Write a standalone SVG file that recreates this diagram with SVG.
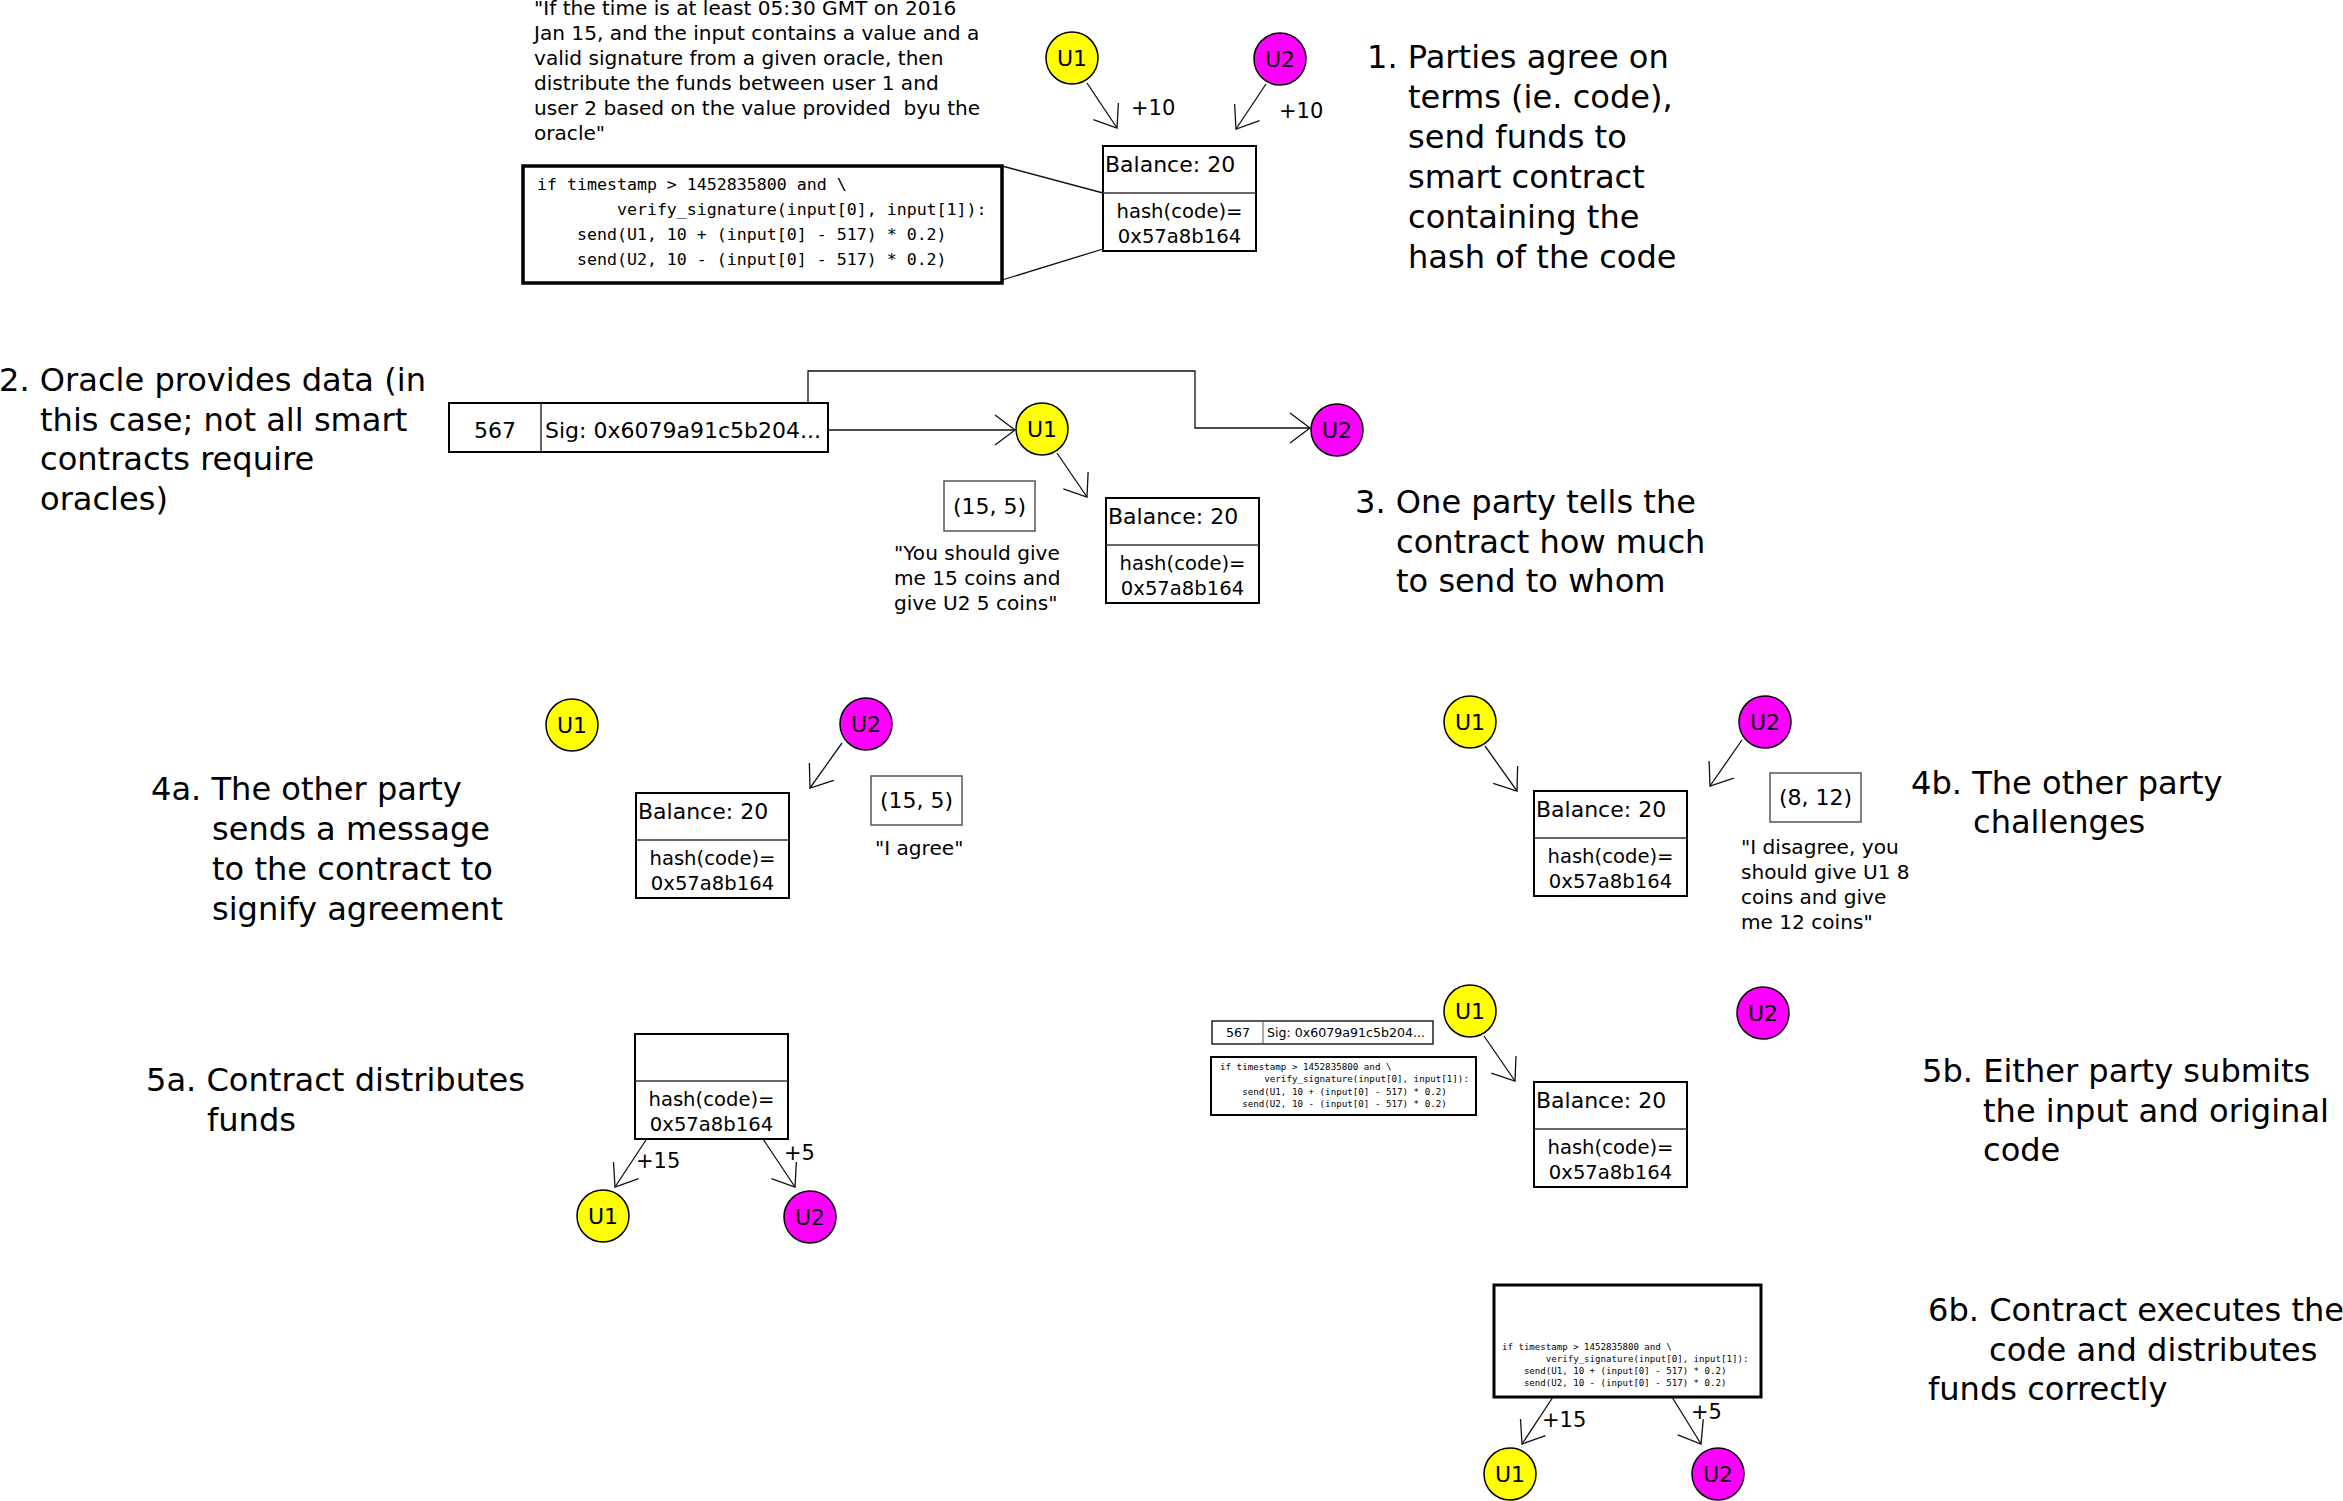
<svg xmlns="http://www.w3.org/2000/svg" width="2343" height="1501" viewBox="0 0 2343 1501">
  <style>
    text { font-family: "DejaVu Sans", "Liberation Sans", sans-serif; fill: #000; }
    .step { font-size: 32.1px; }
    .quote { font-size: 20.1px; }
    .code { font-family: "DejaVu Sans Mono", "Liberation Mono", monospace; }
    .bal { font-size: 22px; }
    .hash { font-size: 19.6px; text-anchor: middle; }
    .amt { font-size: 21px; }
    .ans { font-size: 22px; text-anchor: middle; }
    .ulbl { font-size: 22px; text-anchor: middle; }
    .box { fill: #fff; stroke: #000; stroke-width: 2; }
    .div { stroke: #333; stroke-width: 1.5; }
    .ansbox { fill: #fff; stroke: #555; stroke-width: 1.5; }
    .u1 { fill: #ffff00; stroke: #000; stroke-width: 1.5; }
    .u2 { fill: #ff00ff; stroke: #000; stroke-width: 1.5; }
    .wire { fill: none; stroke: #111; stroke-width: 1.3; }
    .arrow { fill: none; stroke: #111; stroke-width: 1.3; marker-end: url(#vee); }
  </style>
  <defs>
    <marker id="vee" markerUnits="userSpaceOnUse" viewBox="-22 -17 24 34" refX="0" refY="0" markerWidth="24" markerHeight="34" orient="auto" overflow="visible">
      <path d="M-20,-15 L0,0 L-20,15" fill="none" stroke="#111" stroke-width="1.3"/>
    </marker>
  </defs>

  <rect width="2343" height="1501" fill="#fff"/>

  <!-- step captions -->
  <g id="caption-1">
    <text class="step" x="1367" y="68">1. Parties agree on<tspan x="1408" y="108">terms (ie. code),</tspan><tspan x="1408" y="148">send funds to</tspan><tspan x="1408" y="188">smart contract</tspan><tspan x="1408" y="228">containing the</tspan><tspan x="1408" y="268">hash of the code</tspan></text>
  </g>
  <g id="caption-2">
    <text class="step" x="-1" y="391">2. Oracle provides data (in<tspan x="40" y="430.5">this case; not all smart</tspan><tspan x="40" y="470">contracts require</tspan><tspan x="40" y="509.5">oracles)</tspan></text>
  </g>
  <g id="caption-3">
    <text class="step" x="1355" y="513">3. One party tells the<tspan x="1396" y="553">contract how much</tspan><tspan x="1396" y="592">to send to whom</tspan></text>
  </g>
  <g id="caption-4a">
    <text class="step" x="151" y="800">4a. The other party<tspan x="212" y="840">sends a message</tspan><tspan x="212" y="880">to the contract to</tspan><tspan x="212" y="920">signify agreement</tspan></text>
  </g>
  <g id="caption-4b">
    <text class="step" x="1911" y="794">4b. The other party<tspan x="1973" y="833">challenges</tspan></text>
  </g>
  <g id="caption-5a">
    <text class="step" x="146" y="1091">5a. Contract distributes<tspan x="207" y="1131">funds</tspan></text>
  </g>
  <g id="caption-5b">
    <text class="step" x="1922" y="1082">5b. Either party submits<tspan x="1983" y="1122">the input and original</tspan><tspan x="1983" y="1161">code</tspan></text>
  </g>
  <g id="caption-6b">
    <text class="step" x="1928" y="1321">6b. Contract executes the<tspan x="1989" y="1361">code and distributes</tspan><tspan x="1928" y="1400">funds correctly</tspan></text>
  </g>

  <!-- step 1 -->
  <g id="terms-quote">
    <text class="quote" x="534" y="15" xml:space="preserve">"If the time is at least 05:30 GMT on 2016<tspan x="534" y="40">Jan 15, and the input contains a value and a</tspan><tspan x="534" y="65">valid signature from a given oracle, then</tspan><tspan x="534" y="90">distribute the funds between user 1 and</tspan><tspan x="534" y="115">user 2 based on the value provided  byu the</tspan><tspan x="534" y="140">oracle"</tspan></text>
  </g>
  <g id="code-1">
    <rect x="523" y="166" width="479" height="117" fill="#fff" stroke="#000" stroke-width="3.5"/>
    <text class="code" font-size="16.6" x="537" y="190" xml:space="preserve">if timestamp &gt; 1452835800 and \<tspan x="537" y="215">        verify_signature(input[0], input[1]):</tspan><tspan x="537" y="240">    send(U1, 10 + (input[0] - 517) * 0.2)</tspan><tspan x="537" y="265">    send(U2, 10 - (input[0] - 517) * 0.2)</tspan></text>
  </g>
  <g id="contract-1">
    <rect class="box" x="1103" y="146" width="153" height="105"/>
    <line class="div" x1="1103" y1="193" x2="1256" y2="193"/>
    <text class="bal" x="1105" y="172">Balance: 20</text>
    <text class="hash" x="1179.5" y="218">hash(code)=</text>
    <text class="hash" x="1179.5" y="243">0x57a8b164</text>
  </g>
  <g id="u1-1"><circle class="u1" cx="1072" cy="58" r="26"/><text class="ulbl" x="1072" y="66">U1</text></g>
  <g id="u2-1"><circle class="u2" cx="1280" cy="59" r="26"/><text class="ulbl" x="1280" y="67">U2</text></g>

  <!-- step 2 -->
  <g id="oracle-data">
    <rect class="box" x="449" y="403" width="379" height="49"/>
    <line class="div" x1="541" y1="403" x2="541" y2="452"/>
    <text font-size="22" x="495" y="438" text-anchor="middle">567</text>
    <text font-size="22" x="545" y="438">Sig: 0x6079a91c5b204...</text>
  </g>
  <g id="u1-2"><circle class="u1" cx="1042" cy="429" r="26"/><text class="ulbl" x="1042" y="437">U1</text></g>
  <g id="u2-2"><circle class="u2" cx="1337" cy="430" r="26"/><text class="ulbl" x="1337" y="438">U2</text></g>

  <!-- step 3 -->
  <g id="claim-3">
    <rect class="ansbox" x="944" y="481" width="91" height="50"/>
    <text class="ans" x="989.5" y="514">(15, 5)</text>
    <text class="quote" x="894" y="560">"You should give<tspan x="894" y="585">me 15 coins and</tspan><tspan x="894" y="610">give U2 5 coins"</tspan></text>
  </g>
  <g id="contract-3">
    <rect class="box" x="1106" y="498" width="153" height="105"/>
    <line class="div" x1="1106" y1="545" x2="1259" y2="545"/>
    <text class="bal" x="1108" y="524">Balance: 20</text>
    <text class="hash" x="1182.5" y="570">hash(code)=</text>
    <text class="hash" x="1182.5" y="595">0x57a8b164</text>
  </g>

  <!-- step 4a -->
  <g id="u1-4a"><circle class="u1" cx="572" cy="725" r="26"/><text class="ulbl" x="572" y="733">U1</text></g>
  <g id="u2-4a"><circle class="u2" cx="866" cy="724" r="26"/><text class="ulbl" x="866" y="732">U2</text></g>
  <g id="contract-4a">
    <rect class="box" x="636" y="793" width="153" height="105"/>
    <line class="div" x1="636" y1="840" x2="789" y2="840"/>
    <text class="bal" x="638" y="819">Balance: 20</text>
    <text class="hash" x="712.5" y="865">hash(code)=</text>
    <text class="hash" x="712.5" y="890">0x57a8b164</text>
  </g>
  <g id="claim-4a">
    <rect class="ansbox" x="871" y="776" width="91" height="49"/>
    <text class="ans" x="916.5" y="808">(15, 5)</text>
    <text class="quote" x="875" y="855">"I agree"</text>
  </g>

  <!-- step 4b -->
  <g id="u1-4b"><circle class="u1" cx="1470" cy="722" r="26"/><text class="ulbl" x="1470" y="730">U1</text></g>
  <g id="u2-4b"><circle class="u2" cx="1765" cy="722" r="26"/><text class="ulbl" x="1765" y="730">U2</text></g>
  <g id="contract-4b">
    <rect class="box" x="1534" y="791" width="153" height="105"/>
    <line class="div" x1="1534" y1="838" x2="1687" y2="838"/>
    <text class="bal" x="1536" y="817">Balance: 20</text>
    <text class="hash" x="1610.5" y="863">hash(code)=</text>
    <text class="hash" x="1610.5" y="888">0x57a8b164</text>
  </g>
  <g id="claim-4b">
    <rect class="ansbox" x="1770" y="773" width="91" height="49"/>
    <text class="ans" x="1815.5" y="805">(8, 12)</text>
    <text class="quote" x="1741" y="854">"I disagree, you<tspan x="1741" y="879">should give U1 8</tspan><tspan x="1741" y="904">coins and give</tspan><tspan x="1741" y="929">me 12 coins"</tspan></text>
  </g>

  <!-- step 5a -->
  <g id="contract-5a">
    <rect class="box" x="635" y="1034" width="153" height="105"/>
    <line class="div" x1="635" y1="1081" x2="788" y2="1081"/>
    <text class="hash" x="711.5" y="1106">hash(code)=</text>
    <text class="hash" x="711.5" y="1131">0x57a8b164</text>
  </g>
  <g id="u1-5a"><circle class="u1" cx="603" cy="1216" r="26"/><text class="ulbl" x="603" y="1224">U1</text></g>
  <g id="u2-5a"><circle class="u2" cx="810" cy="1217" r="26"/><text class="ulbl" x="810" y="1225">U2</text></g>

  <!-- step 5b -->
  <g id="oracle-data-5b">
    <rect x="1212" y="1021" width="221" height="23" fill="#fff" stroke="#000" stroke-width="1.3"/>
    <line x1="1263" y1="1021" x2="1263" y2="1044" stroke="#555" stroke-width="1"/>
    <text font-size="12.6" x="1238" y="1036.5" text-anchor="middle">567</text>
    <text font-size="12.6" x="1267" y="1036.5">Sig: 0x6079a91c5b204...</text>
  </g>
  <g id="code-5b">
    <rect x="1211" y="1057" width="265" height="58" fill="#fff" stroke="#000" stroke-width="2"/>
    <text class="code" font-size="9.2" x="1220" y="1070" xml:space="preserve">if timestamp &gt; 1452835800 and \<tspan x="1220" y="1082.3">        verify_signature(input[0], input[1]):</tspan><tspan x="1220" y="1094.6">    send(U1, 10 + (input[0] - 517) * 0.2)</tspan><tspan x="1220" y="1106.9">    send(U2, 10 - (input[0] - 517) * 0.2)</tspan></text>
  </g>
  <g id="u1-5b"><circle class="u1" cx="1470" cy="1011" r="26"/><text class="ulbl" x="1470" y="1019">U1</text></g>
  <g id="u2-5b"><circle class="u2" cx="1763" cy="1013" r="26"/><text class="ulbl" x="1763" y="1021">U2</text></g>
  <g id="contract-5b">
    <rect class="box" x="1534" y="1082" width="153" height="105"/>
    <line class="div" x1="1534" y1="1129" x2="1687" y2="1129"/>
    <text class="bal" x="1536" y="1108">Balance: 20</text>
    <text class="hash" x="1610.5" y="1154">hash(code)=</text>
    <text class="hash" x="1610.5" y="1179">0x57a8b164</text>
  </g>

  <!-- step 6b -->
  <g id="contract-6b">
    <rect x="1494" y="1285" width="267" height="112" fill="#fff" stroke="#000" stroke-width="3"/>
    <text class="code" font-size="9.1" x="1502" y="1349.5" xml:space="preserve">if timestamp &gt; 1452835800 and \<tspan x="1502" y="1361.8">        verify_signature(input[0], input[1]):</tspan><tspan x="1502" y="1374.1">    send(U1, 10 + (input[0] - 517) * 0.2)</tspan><tspan x="1502" y="1386.4">    send(U2, 10 - (input[0] - 517) * 0.2)</tspan></text>
  </g>
  <g id="u1-6b"><circle class="u1" cx="1510" cy="1474" r="26"/><text class="ulbl" x="1510" y="1482">U1</text></g>
  <g id="u2-6b"><circle class="u2" cx="1718" cy="1474" r="26"/><text class="ulbl" x="1718" y="1482">U2</text></g>

  <!-- connectors and amounts -->
  <g id="connectors">
    <line class="wire" x1="1002" y1="166" x2="1103" y2="193"/>
    <line class="wire" x1="1002" y1="280" x2="1103" y2="249"/>
    <line class="arrow" x1="1087" y1="83" x2="1117" y2="128"/>
    <line class="arrow" x1="1266" y1="84" x2="1236" y2="129"/>
    <line class="arrow" x1="828" y1="430" x2="1015" y2="430"/>
    <path class="arrow" d="M808,403 V371 H1195 V428 H1310"/>
    <line class="arrow" x1="1057" y1="453" x2="1087" y2="497"/>
    <line class="arrow" x1="842" y1="743" x2="810" y2="788"/>
    <line class="arrow" x1="1485" y1="746" x2="1517" y2="791"/>
    <line class="arrow" x1="1742" y1="740" x2="1710" y2="786"/>
    <line class="arrow" x1="646" y1="1140" x2="615" y2="1187"/>
    <line class="arrow" x1="763" y1="1139" x2="795" y2="1187"/>
    <line class="arrow" x1="1484" y1="1036" x2="1515" y2="1081"/>
    <line class="arrow" x1="1553" y1="1397" x2="1522" y2="1444"/>
    <line class="arrow" x1="1672" y1="1397" x2="1701" y2="1444"/>
    <text class="amt" x="1131" y="114.5">+10</text>
    <text class="amt" x="1279" y="117.5">+10</text>
    <text class="amt" x="636" y="1168">+15</text>
    <text class="amt" x="784" y="1160">+5</text>
    <text class="amt" x="1542" y="1426.5">+15</text>
    <text class="amt" x="1691" y="1419">+5</text>
  </g>
</svg>
